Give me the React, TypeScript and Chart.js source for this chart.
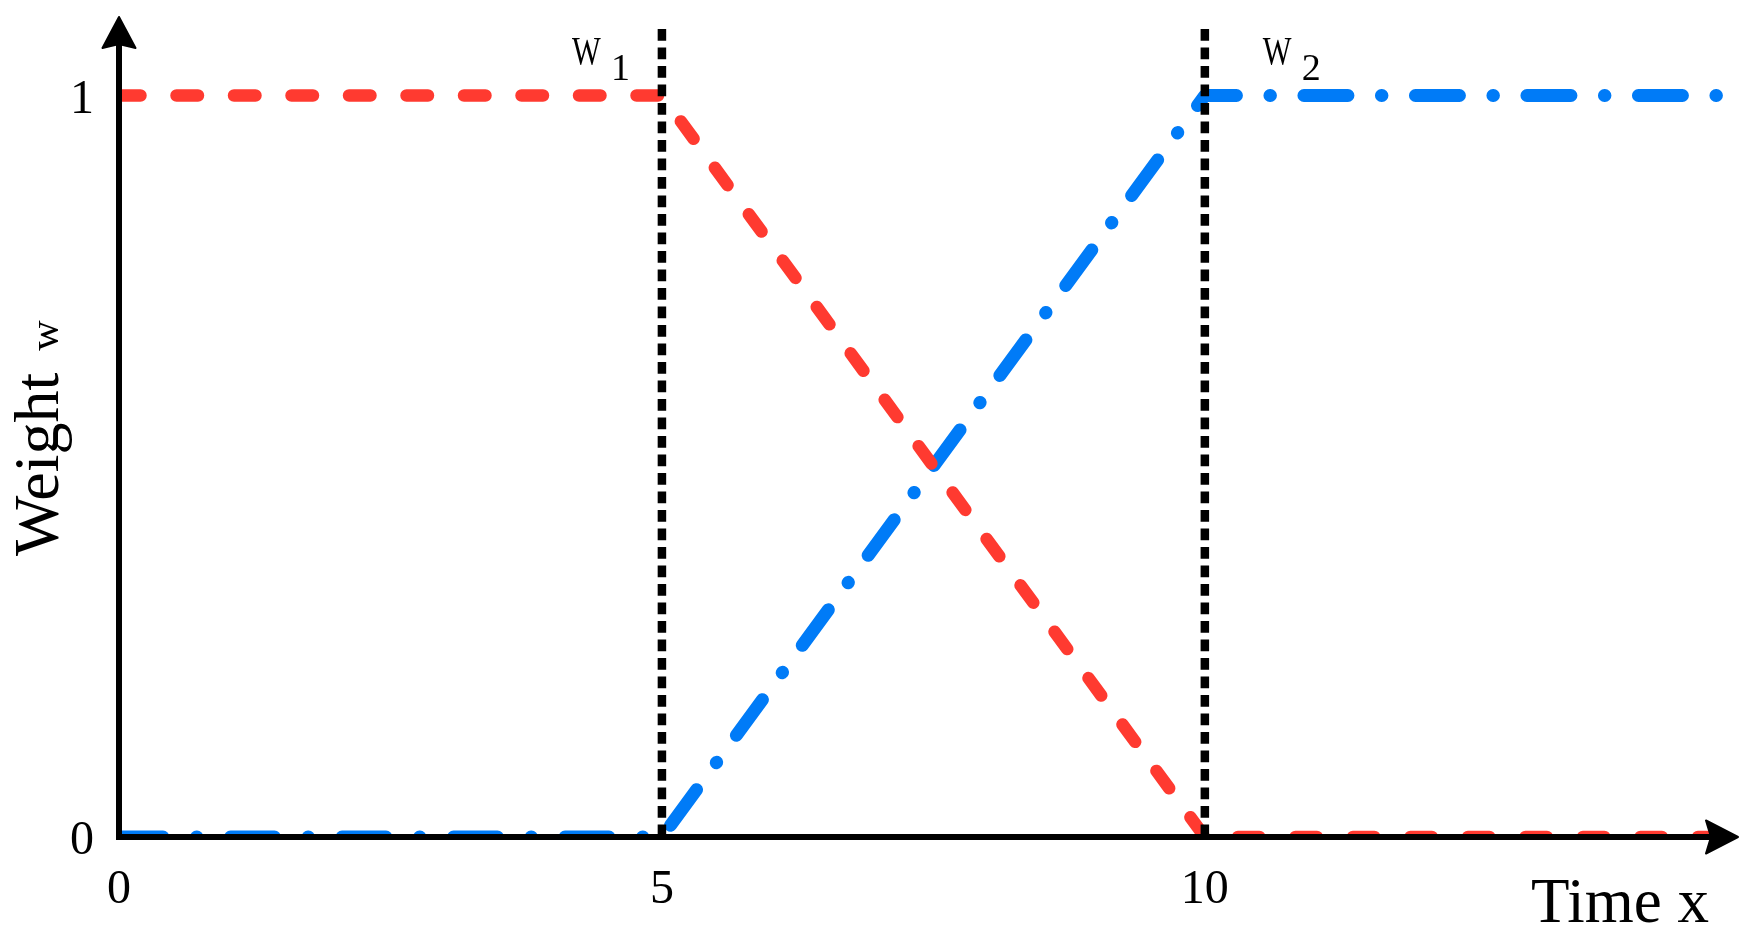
import React, { useEffect, useRef } from "react";
import { Chart, registerables } from "chart.js";

Chart.register(...registerables);

// ---- data ----
const xTickValues = [0, 5, 10];
const yTickValues = [0, 1];

const redX = [0, 5, 10, 14.83];
const redY = [1, 1, 0, 0];

const blueX = [0, 5, 10, 14.83];
const blueY = [0, 0, 1, 1];

const markerX = [5, 10];
const markerTop = 1.0897;
const markerMain = ["W", "W"];
const markerSub = ["1", "2"];

const xTitle = "Time x";
const yTitleMain = "Weight";
const yTitleSub = "w";

const X_MIN = 0;
const X_MAX = 14.91;
const Y_MIN = 0;
const Y_MAX = 1.1059;

const SERIF = '"Liberation Serif", "Times New Roman", serif';
const RED = "rgb(255, 58, 48)";
const BLUE = "rgb(0, 123, 247)";

const axesPlugin = {
  id: "customAxes",
  afterDatasetsDraw(chart: any) {
    const { ctx, chartArea: a, scales } = chart;
    const xs = scales.x;
    const ys = scales.y;
    const x0 = xs.getPixelForValue(0);
    const y0 = ys.getPixelForValue(0);
    ctx.save();
    ctx.strokeStyle = "#000";
    ctx.fillStyle = "#000";

    // axis lines
    ctx.lineWidth = 6;
    ctx.lineJoin = "miter";
    ctx.lineCap = "butt";
    ctx.beginPath();
    ctx.moveTo(x0, a.top + 25);
    ctx.lineTo(x0, y0);
    ctx.lineTo(a.right - 25, y0);
    ctx.stroke();

    // arrows
    ctx.lineWidth = 2;
    ctx.lineJoin = "round";
    ctx.beginPath();
    ctx.moveTo(x0, a.top);
    ctx.lineTo(x0 + 16.5, a.top + 31);
    ctx.lineTo(x0, a.top + 27);
    ctx.lineTo(x0 - 16.5, a.top + 31);
    ctx.closePath();
    ctx.fill();
    ctx.stroke();

    ctx.beginPath();
    ctx.moveTo(a.right, y0);
    ctx.lineTo(a.right - 32, y0 - 16.5);
    ctx.lineTo(a.right - 27, y0);
    ctx.lineTo(a.right - 32, y0 + 16.5);
    ctx.closePath();
    ctx.fill();
    ctx.stroke();

    // tick labels
    ctx.font = `48px ${SERIF}`;
    ctx.textBaseline = "alphabetic";
    ctx.textAlign = "center";
    xTickValues.forEach((v) => {
      ctx.fillText(String(v), xs.getPixelForValue(v), y0 + 66);
    });
    ctx.textAlign = "right";
    yTickValues.forEach((v) => {
      ctx.fillText(String(v), x0 - 25, ys.getPixelForValue(v) + 17);
    });

    // x title
    ctx.font = `63px ${SERIF}`;
    ctx.textAlign = "right";
    ctx.fillText(xTitle, a.right - 29, y0 + 85);

    // y title (rotated)
    ctx.save();
    ctx.translate(58, 556);
    ctx.rotate(-Math.PI / 2);
    ctx.textAlign = "left";
    ctx.font = `64px ${SERIF}`;
    ctx.fillText(yTitleMain, 0, 0);
    const wMain = ctx.measureText(yTitleMain + " ").width + 6;
    ctx.font = `42px ${SERIF}`;
    ctx.fillText(yTitleSub, wMain, 0);
    ctx.restore();

    // marker labels
    markerX.forEach((mx, i) => {
      const px = xs.getPixelForValue(mx);
      const left = i === 0 ? px - 90 : px + 58;
      ctx.textAlign = "left";
      ctx.save();
      ctx.translate(left, 64);
      ctx.scale(0.78, 1);
      ctx.font = `39px ${SERIF}`;
      ctx.fillText(markerMain[i], 0, 0);
      ctx.restore();
      ctx.font = `38px ${SERIF}`;
      ctx.fillText(markerSub[i], left + 39, 80);
    });

    ctx.restore();
  },
};

export default function App() {
  const canvasRef = useRef<HTMLCanvasElement | null>(null);

  useEffect(() => {
    const canvas = canvasRef.current;
    if (!canvas) return;

    const toPoints = (xsArr: number[], ysArr: number[]) =>
      xsArr.map((x, i) => ({ x, y: ysArr[i] }));

    const datasets: any[] = [
      {
        label: "w1",
        data: toPoints(redX, redY),
        borderColor: RED,
        borderWidth: 12.5,
        borderDash: [21.5, 36],
        borderCapStyle: "round",
        borderJoinStyle: "round",
        pointRadius: 0,
        tension: 0,
        fill: false,
        clip: 0,
        order: 1,
      },
      {
        label: "w2",
        data: toPoints(blueX, blueY),
        borderColor: BLUE,
        borderWidth: 13,
        borderDash: [44, 33.5, 0.5, 33.5],
        borderCapStyle: "round",
        borderJoinStyle: "round",
        pointRadius: 0,
        tension: 0,
        fill: false,
        clip: 0,
        order: 2,
      },
      ...markerX.map((mx) => ({
        label: "marker" + mx,
        data: [
          { x: mx, y: markerTop },
          { x: mx, y: 0 },
        ],
        borderColor: "#000",
        borderWidth: 8.5,
        borderDash: [11.7, 6.8],
        borderCapStyle: "butt",
        pointRadius: 0,
        fill: false,
        clip: 0,
        order: 0,
      })),
    ];

    const chart = new Chart(canvas, {
      type: "line",
      data: { datasets },
      options: {
        animation: false,
        responsive: false,
        maintainAspectRatio: false,
        devicePixelRatio: 1,
        layout: { padding: { left: 119, right: 17, top: 17, bottom: 103 } },
        scales: {
          x: { type: "linear", min: X_MIN, max: X_MAX, display: false },
          y: { type: "linear", min: Y_MIN, max: Y_MAX, display: false },
        },
        plugins: {
          legend: { display: false },
          tooltip: { enabled: false },
        },
        events: [],
      },
      plugins: [axesPlugin],
    } as any);

    return () => chart.destroy();
  }, []);

  return (
    <div style={{ position: "fixed", left: 0, top: 0, width: 1755, height: 940, background: "#fff" }}>
      <canvas ref={canvasRef} width={1755} height={940} style={{ display: "block" }} />
    </div>
  );
}
